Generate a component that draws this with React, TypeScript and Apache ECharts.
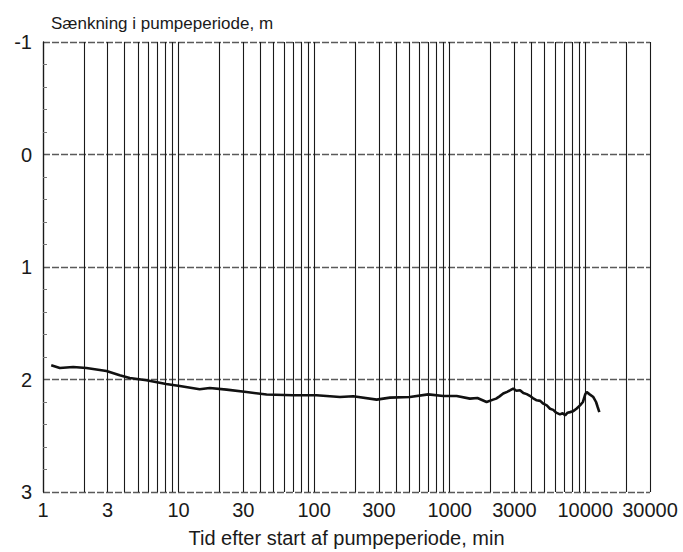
import React, { useEffect, useRef } from "react";
import * as echarts from "echarts";

// Time since pumping started (min) and drawdown (m)
const timeMin = [
  1.15, 1.33, 1.67, 2.09, 2.94, 3.68, 4.36, 5.8, 8.1, 10.2, 14.3, 17, 22.6,
  31.7, 44.6, 70, 104, 155, 194, 289, 362, 508, 694, 896, 1125, 1409, 1600,
  1870, 2090, 2200, 2330, 2480, 2650, 2800, 2940, 3100, 3300, 3490, 3700, 3900,
  4100, 4380, 4650, 4900, 5200, 5490, 5800, 6100, 6500, 6800, 7100, 7400, 7710,
  8100, 8600, 9140, 9600, 10000, 10240, 10700, 11460, 12000, 12300, 12690,
];
const drawdown = [
  1.874, 1.898, 1.889, 1.898, 1.924, 1.963, 1.987, 2.007, 2.04, 2.058, 2.087,
  2.076, 2.09, 2.111, 2.134, 2.14, 2.14, 2.156, 2.149, 2.179, 2.161, 2.156,
  2.132, 2.147, 2.147, 2.17, 2.165, 2.2, 2.179, 2.17, 2.15, 2.125, 2.11, 2.095,
  2.081, 2.1, 2.095, 2.12, 2.13, 2.145, 2.165, 2.185, 2.19, 2.215, 2.23, 2.26,
  2.27, 2.295, 2.31, 2.3, 2.318, 2.295, 2.29, 2.283, 2.26, 2.23, 2.2, 2.13,
  2.111, 2.13, 2.156, 2.2, 2.24, 2.29,
];

// Axis labels and grid positions
const xLabelValues = [1, 3, 10, 30, 100, 300, 1000, 3000, 10000, 30000];
const xGridValues = [
  1, 2, 3, 4, 5, 6, 7, 8, 9,
  10, 20, 30, 40, 50, 60, 70, 80, 90,
  100, 200, 300, 400, 500, 600, 700, 800, 900,
  1000, 2000, 3000, 4000, 5000, 6000, 7000, 8000, 9000,
  10000, 20000, 30000,
];
const yMin = -1;
const yMax = 3;
const yStep = 1;

const titleText = "Sænkning i pumpeperiode, m";
const xName = "Tid efter start af pumpeperiode, min";

const FONT = "'Liberation Sans', Arial, sans-serif";

export default function App() {
  const ref = useRef<HTMLDivElement>(null);

  useEffect(() => {
    if (!ref.current) return;
    const chart = echarts.init(ref.current, undefined, { renderer: "svg" });
    chart.setOption({
      animation: false,
      backgroundColor: "#ffffff",
      title: {
        text: titleText,
        left: 46,
        top: 10,
        textStyle: {
          fontFamily: FONT,
          fontSize: 17,
          fontWeight: "normal",
          color: "#1a1a1a",
        },
      },
      grid: {
        left: 43,
        right: 33,
        top: 42,
        bottom: 60,
        containLabel: false,
        outerBoundsMode: "none",
      },
      xAxis: {
        type: "log",
        logBase: 10,
        min: 1,
        max: 30000,
        name: xName,
        nameLocation: "middle",
        nameGap: 36,
        nameTextStyle: { fontFamily: FONT, fontSize: 20, color: "#1a1a1a" },
        axisLine: { show: false },
        axisTick: { show: false, customValues: xGridValues },
        axisLabel: {
          customValues: xLabelValues,
          margin: 8,
          fontFamily: FONT,
          fontSize: 20,
          color: "#1a1a1a",
          hideOverlap: false,
          formatter: (v: number) => String(Math.round(v)),
        },
        splitLine: {
          show: true,
          lineStyle: { color: "#1a1a1a", width: 1.1, type: "solid" },
        },
      },
      yAxis: {
        type: "value",
        inverse: true,
        min: yMin,
        max: yMax,
        interval: yStep,
        axisLine: { show: true, lineStyle: { color: "#1a1a1a", width: 1.3 } },
        axisTick: { show: false, inside: true, length: 4 },
        minorTick: {
          show: true,
          splitNumber: 5,
          length: 4,
          lineStyle: { color: "#777", width: 1 },
        },
        axisLabel: {
          margin: 11,
          fontFamily: FONT,
          fontSize: 20,
          color: "#1a1a1a",
        },
        splitLine: {
          show: true,
          lineStyle: { color: "#5a5a5a", width: 1.4, type: [7, 2] },
        },
      },
      series: [
        {
          type: "line",
          data: timeMin.map((t, i) => [t, drawdown[i]]),
          showSymbol: false,
          lineStyle: { color: "#111", width: 2.6 },
          z: 5,
        },
      ],
    });
    return () => chart.dispose();
  }, []);

  return (
    <div
      ref={ref}
      style={{ position: "fixed", left: 0, top: 0, width: 683, height: 552 }}
    />
  );
}
